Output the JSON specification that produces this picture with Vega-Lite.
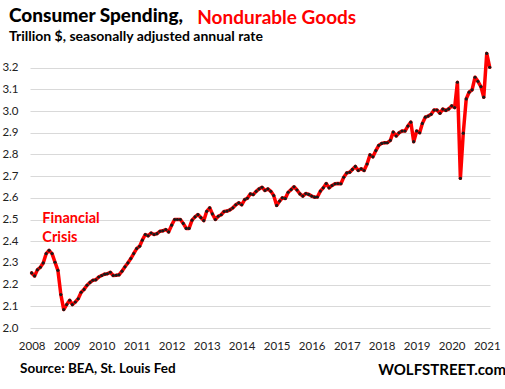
{
  "$schema": "https://vega.github.io/schema/vega-lite/v6.json",
  "width": 460,
  "height": 282,
  "autosize": {"type": "none"},
  "padding": {"left": 30, "top": 46, "right": 15, "bottom": 61},
  "background": "white",
  "config": {"view": {"stroke": null}, "font": "Lato", "axisX": {"labelOverlap": false}},
  "title": {
    "text": "Consumer Spending,",
    "subtitle": "Trillion $, seasonally adjusted annual rate",
    "anchor": "start",
    "frame": "group",
    "dx": -21,
    "dy": 38,
    "offset": 2,
    "font": "Lato",
    "fontSize": 19,
    "fontWeight": 900,
    "color": "#000000",
    "subtitleFont": "Lato",
    "subtitleFontSize": 14,
    "subtitleFontWeight": "bold",
    "subtitleColor": "#000000",
    "subtitlePadding": 4
  },
  "datasets": {
    "spending": [
      {"date": "2008-01-01", "value": 2.254},
      {"date": "2008-02-01", "value": 2.240},
      {"date": "2008-03-01", "value": 2.268},
      {"date": "2008-04-01", "value": 2.280},
      {"date": "2008-05-01", "value": 2.300},
      {"date": "2008-06-01", "value": 2.343},
      {"date": "2008-07-01", "value": 2.358},
      {"date": "2008-08-01", "value": 2.343},
      {"date": "2008-09-01", "value": 2.303},
      {"date": "2008-10-01", "value": 2.266},
      {"date": "2008-11-01", "value": 2.154},
      {"date": "2008-12-01", "value": 2.085},
      {"date": "2009-01-01", "value": 2.108},
      {"date": "2009-02-01", "value": 2.128},
      {"date": "2009-03-01", "value": 2.108},
      {"date": "2009-04-01", "value": 2.120},
      {"date": "2009-05-01", "value": 2.135},
      {"date": "2009-06-01", "value": 2.165},
      {"date": "2009-07-01", "value": 2.178},
      {"date": "2009-08-01", "value": 2.197},
      {"date": "2009-09-01", "value": 2.210},
      {"date": "2009-10-01", "value": 2.220},
      {"date": "2009-11-01", "value": 2.222},
      {"date": "2009-12-01", "value": 2.235},
      {"date": "2010-01-01", "value": 2.242},
      {"date": "2010-02-01", "value": 2.248},
      {"date": "2010-03-01", "value": 2.250},
      {"date": "2010-04-01", "value": 2.257},
      {"date": "2010-05-01", "value": 2.242},
      {"date": "2010-06-01", "value": 2.243},
      {"date": "2010-07-01", "value": 2.245},
      {"date": "2010-08-01", "value": 2.262},
      {"date": "2010-09-01", "value": 2.282},
      {"date": "2010-10-01", "value": 2.300},
      {"date": "2010-11-01", "value": 2.320},
      {"date": "2010-12-01", "value": 2.343},
      {"date": "2011-01-01", "value": 2.366},
      {"date": "2011-02-01", "value": 2.377},
      {"date": "2011-03-01", "value": 2.405},
      {"date": "2011-04-01", "value": 2.431},
      {"date": "2011-05-01", "value": 2.425},
      {"date": "2011-06-01", "value": 2.438},
      {"date": "2011-07-01", "value": 2.431},
      {"date": "2011-08-01", "value": 2.435},
      {"date": "2011-09-01", "value": 2.446},
      {"date": "2011-10-01", "value": 2.448},
      {"date": "2011-11-01", "value": 2.454},
      {"date": "2011-12-01", "value": 2.443},
      {"date": "2012-01-01", "value": 2.474},
      {"date": "2012-02-01", "value": 2.500},
      {"date": "2012-03-01", "value": 2.500},
      {"date": "2012-04-01", "value": 2.500},
      {"date": "2012-05-01", "value": 2.482},
      {"date": "2012-06-01", "value": 2.459},
      {"date": "2012-07-01", "value": 2.459},
      {"date": "2012-08-01", "value": 2.497},
      {"date": "2012-09-01", "value": 2.512},
      {"date": "2012-10-01", "value": 2.523},
      {"date": "2012-11-01", "value": 2.509},
      {"date": "2012-12-01", "value": 2.495},
      {"date": "2013-01-01", "value": 2.538},
      {"date": "2013-02-01", "value": 2.554},
      {"date": "2013-03-01", "value": 2.526},
      {"date": "2013-04-01", "value": 2.500},
      {"date": "2013-05-01", "value": 2.515},
      {"date": "2013-06-01", "value": 2.522},
      {"date": "2013-07-01", "value": 2.537},
      {"date": "2013-08-01", "value": 2.539},
      {"date": "2013-09-01", "value": 2.545},
      {"date": "2013-10-01", "value": 2.554},
      {"date": "2013-11-01", "value": 2.568},
      {"date": "2013-12-01", "value": 2.577},
      {"date": "2014-01-01", "value": 2.568},
      {"date": "2014-02-01", "value": 2.592},
      {"date": "2014-03-01", "value": 2.598},
      {"date": "2014-04-01", "value": 2.618},
      {"date": "2014-05-01", "value": 2.615},
      {"date": "2014-06-01", "value": 2.630},
      {"date": "2014-07-01", "value": 2.641},
      {"date": "2014-08-01", "value": 2.649},
      {"date": "2014-09-01", "value": 2.634},
      {"date": "2014-10-01", "value": 2.641},
      {"date": "2014-11-01", "value": 2.630},
      {"date": "2014-12-01", "value": 2.611},
      {"date": "2015-01-01", "value": 2.565},
      {"date": "2015-02-01", "value": 2.585},
      {"date": "2015-03-01", "value": 2.600},
      {"date": "2015-04-01", "value": 2.597},
      {"date": "2015-05-01", "value": 2.626},
      {"date": "2015-06-01", "value": 2.638},
      {"date": "2015-07-01", "value": 2.651},
      {"date": "2015-08-01", "value": 2.636},
      {"date": "2015-09-01", "value": 2.618},
      {"date": "2015-10-01", "value": 2.608},
      {"date": "2015-11-01", "value": 2.620},
      {"date": "2015-12-01", "value": 2.616},
      {"date": "2016-01-01", "value": 2.608},
      {"date": "2016-02-01", "value": 2.603},
      {"date": "2016-03-01", "value": 2.604},
      {"date": "2016-04-01", "value": 2.631},
      {"date": "2016-05-01", "value": 2.646},
      {"date": "2016-06-01", "value": 2.666},
      {"date": "2016-07-01", "value": 2.646},
      {"date": "2016-08-01", "value": 2.657},
      {"date": "2016-09-01", "value": 2.665},
      {"date": "2016-10-01", "value": 2.666},
      {"date": "2016-11-01", "value": 2.665},
      {"date": "2016-12-01", "value": 2.695},
      {"date": "2017-01-01", "value": 2.715},
      {"date": "2017-02-01", "value": 2.718},
      {"date": "2017-03-01", "value": 2.731},
      {"date": "2017-04-01", "value": 2.745},
      {"date": "2017-05-01", "value": 2.726},
      {"date": "2017-06-01", "value": 2.734},
      {"date": "2017-07-01", "value": 2.726},
      {"date": "2017-08-01", "value": 2.756},
      {"date": "2017-09-01", "value": 2.798},
      {"date": "2017-10-01", "value": 2.789},
      {"date": "2017-11-01", "value": 2.818},
      {"date": "2017-12-01", "value": 2.842},
      {"date": "2018-01-01", "value": 2.851},
      {"date": "2018-02-01", "value": 2.854},
      {"date": "2018-03-01", "value": 2.854},
      {"date": "2018-04-01", "value": 2.865},
      {"date": "2018-05-01", "value": 2.903},
      {"date": "2018-06-01", "value": 2.885},
      {"date": "2018-07-01", "value": 2.900},
      {"date": "2018-08-01", "value": 2.908},
      {"date": "2018-09-01", "value": 2.908},
      {"date": "2018-10-01", "value": 2.931},
      {"date": "2018-11-01", "value": 2.949},
      {"date": "2018-12-01", "value": 2.859},
      {"date": "2019-01-01", "value": 2.908},
      {"date": "2019-02-01", "value": 2.900},
      {"date": "2019-03-01", "value": 2.943},
      {"date": "2019-04-01", "value": 2.972},
      {"date": "2019-05-01", "value": 2.977},
      {"date": "2019-06-01", "value": 2.985},
      {"date": "2019-07-01", "value": 3.005},
      {"date": "2019-08-01", "value": 3.005},
      {"date": "2019-09-01", "value": 2.990},
      {"date": "2019-10-01", "value": 3.009},
      {"date": "2019-11-01", "value": 3.003},
      {"date": "2019-12-01", "value": 3.010},
      {"date": "2020-01-01", "value": 3.024},
      {"date": "2020-02-01", "value": 3.016},
      {"date": "2020-03-01", "value": 3.133},
      {"date": "2020-04-01", "value": 2.690},
      {"date": "2020-05-01", "value": 2.898},
      {"date": "2020-06-01", "value": 3.056},
      {"date": "2020-07-01", "value": 3.087},
      {"date": "2020-08-01", "value": 3.098},
      {"date": "2020-09-01", "value": 3.156},
      {"date": "2020-10-01", "value": 3.137},
      {"date": "2020-11-01", "value": 3.113},
      {"date": "2020-12-01", "value": 3.064},
      {"date": "2021-01-01", "value": 3.266},
      {"date": "2021-02-01", "value": 3.202}
    ],
    "notes": [
      {"date": "2008-04-22", "value": 2.483, "label": "Financial\nCrisis"}
    ]
  },
  "resolve": {"axis": {"y": "independent"}},
  "layer": [
    {
      "mark": {"type": "rect", "color": "white"},
      "encoding": {
        "x": {
          "datum": {"year": 2008, "month": 3, "date": 28}, "type": "temporal",
          "scale": {"domain": [{"year": 2007, "month": 12, "date": 15}, {"year": 2021, "month": 2, "date": 4}]},
          "axis": {
            "tickCount": {"interval": "year", "step": 1},
            "format": "%Y",
            "labelFont": "Lato", "labelFontSize": 11.5, "labelColor": "#222222",
            "labelPadding": 12, "labelFlush": false, "labelOverlap": false,
            "grid": false, "ticks": false, "domain": false,
            "title": "Source: BEA, St. Louis Fed",
            "titleFont": "Lato", "titleFontSize": 13.5, "titleFontWeight": "bold", "titleColor": "#000000",
            "titleX": -10.5, "titleY": 44.7, "titleAlign": "left", "titleBaseline": "alphabetic", "titleAngle": 0
          }
        },
        "x2": {"datum": {"year": 2010, "month": 1, "date": 24}},
        "y": {"datum": 2.385, "type": "quantitative", "axis": null},
        "y2": {"datum": 2.56}
      }
    },
    {
      "mark": {"type": "rule", "color": "#00b050", "strokeWidth": 1.5},
      "encoding": {
        "y": {"datum": 3.2, "type": "quantitative", "axis": null}
      }
    },
    {
      "data": {"name": "spending"},
      "mark": {"type": "line", "color": "#ff0000", "strokeWidth": 3.5, "strokeJoin": "round", "strokeCap": "round"},
      "encoding": {
        "x": {"field": "date", "type": "temporal"},
        "y": {
          "field": "value", "type": "quantitative",
          "scale": {"domain": [2.0, 3.3], "nice": false, "zero": false},
          "axis": {
            "values": [2.0, 2.1, 2.2, 2.3, 2.4, 2.5, 2.6, 2.7, 2.8, 2.9, 3.0, 3.1, 3.2],
            "format": ".1f",
            "labelFont": "Lato", "labelFontSize": 11.5, "labelColor": "#222222",
            "labelPadding": 12,
            "grid": true, "gridColor": "#d9d9d9", "gridWidth": 1,
            "ticks": false, "domain": false,
            "title": "WOLFSTREET.com",
            "titleFont": "Lato", "titleFontSize": 15, "titleFontWeight": "bold", "titleColor": "#000000",
            "titleX": 347.7, "titleY": 328.7, "titleAlign": "left", "titleBaseline": "alphabetic", "titleAngle": 0
          }
        }
      }
    },
    {
      "data": {"name": "spending"},
      "mark": {"type": "point", "filled": true, "color": "#1a1a1a", "size": 10, "opacity": 1},
      "encoding": {
        "x": {"field": "date", "type": "temporal"},
        "y": {
          "field": "value", "type": "quantitative",
          "axis": {
            "orient": "right", "labels": false, "ticks": false, "domain": false, "grid": false,
            "title": "Nondurable Goods",
            "titleFont": "Lato", "titleFontSize": 19, "titleFontWeight": "bold", "titleColor": "#ff0000",
            "titleX": -293.3, "titleY": -22.7, "titleAlign": "left", "titleBaseline": "alphabetic", "titleAngle": 0
          }
        }
      }
    },
    {
      "data": {"name": "notes"},
      "mark": {"type": "text", "color": "#ff0000", "font": "Lato", "fontSize": 14.5, "fontWeight": "bold", "align": "left", "baseline": "alphabetic", "lineBreak": "\n", "lineHeight": 18.5},
      "encoding": {
        "x": {"field": "date", "type": "temporal"},
        "y": {"field": "value", "type": "quantitative", "axis": null},
        "text": {"field": "label"}
      }
    }
  ]
}
